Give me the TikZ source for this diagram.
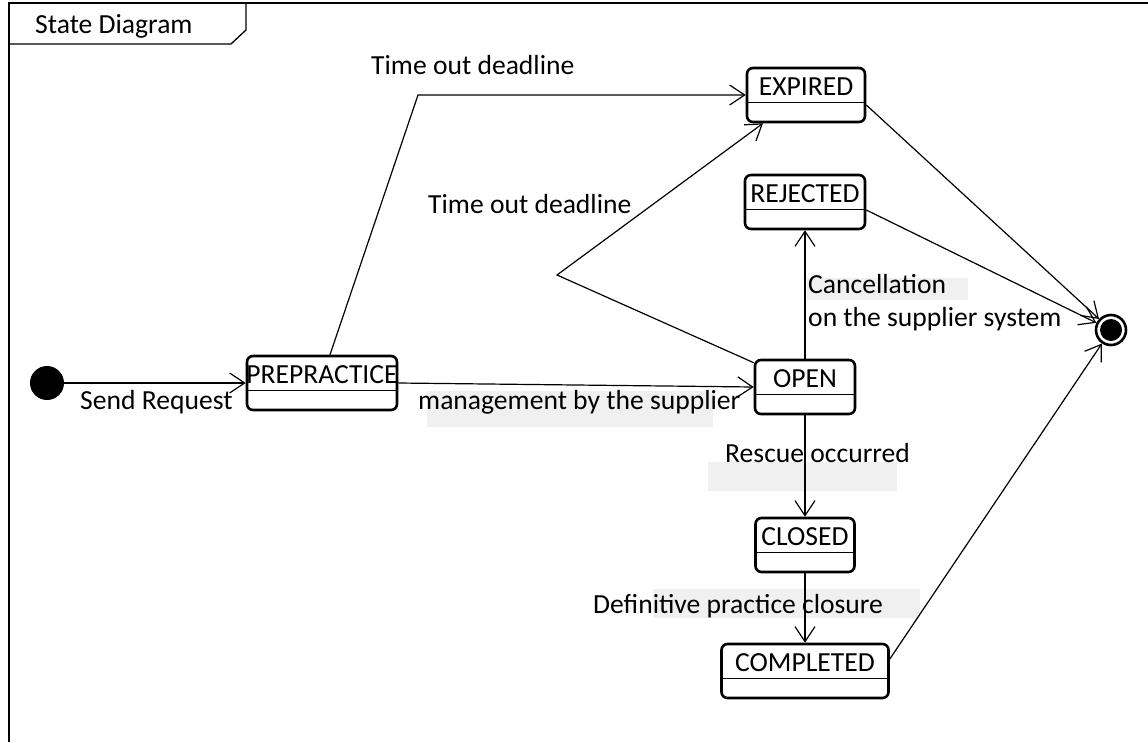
\documentclass[tikz,border=0pt]{standalone}
\usepackage{fontspec}
\setmainfont{Carlito}
\usetikzlibrary{arrows.meta}
\definecolor{hlgray}{HTML}{F0F0F0}
\begin{document}
\begin{tikzpicture}[x=1pt,y=-1pt,
  every node/.style={font=\fontsize{27.6pt}{32pt}\selectfont},
  state/.style={draw, line width=2.6pt, rounded corners=6pt, minimum height=54pt, inner sep=0pt},
  statename/.style={inner sep=0pt, anchor=base},
  divider/.style={line width=1.2pt},
  trans/.style={line width=1.2pt, -{Straight Barb[length=15pt,width=20pt,line width=1.2pt]}},
  lbl/.style={inner sep=0pt, anchor=base west},
  hl/.style={fill=hlgray, draw=none}]

\useasboundingbox (0,0) rectangle (1148,742);

% diagram frame and its name tab
\draw[line width=1.3pt] (9,742) -- (9,3) -- (1148,3);
\draw[line width=1.3pt] (9,44) -- (231,44) -- (246,30) -- (246,3);
\node[lbl] (title) at (35,33) {State Diagram};

% shaded label backgrounds
\fill[hl] (427,391) rectangle (713,427);
\fill[hl] (807,278) rectangle (968,300);
\fill[hl] (708,462) rectangle (897,491);
\fill[hl] (653,589) rectangle (920,618);

% states
\node[state, minimum width=150pt] (prep) at (322,383) {};
\node[state, minimum width=118pt] (exp) at (806,95) {};
\node[state, minimum width=120pt] (rej) at (805,202) {};
\node[state, minimum width=100pt] (open) at (805,387) {};
\node[state, minimum width=99pt] (closed) at (805,545) {};
\node[state, minimum width=167pt] (comp) at (805,671) {};

\foreach \s/\t in {prep/PREPRACTICE, exp/EXPIRED, rej/REJECTED, open/OPEN, closed/CLOSED, comp/COMPLETED}{
  \node[statename] (\s-name) at ([yshift=-29pt]\s.north) {\t};
  \draw[divider] ([yshift=-36pt]\s.north west) -- ([yshift=-36pt]\s.north east);
}

% initial and final pseudostates
\node[circle, fill, minimum size=34pt, inner sep=0pt] (init) at (47,383) {};
\node[circle, draw, line width=2.6pt, minimum size=30pt, inner sep=0pt] (fin) at (1111,330) {};
\fill (fin.center) circle (11pt);

% bend points
\coordinate (c1) at (418,95);
\coordinate (c2) at (557,275);

% transitions
\draw[trans] (init) -- (prep.west);
\draw[trans] ([xshift=8pt]prep.north) -- (c1) -- (exp.west);
\draw[trans] ([yshift=-4pt]open.north west) -- (c2) -- ([xshift=-43pt]exp.south);
\draw[trans] (prep.east) -- (open.west);
\draw[trans] (open.north) -- (rej.south);
\draw[trans] (open.south) -- (closed.north);
\draw[trans] (closed.south) -- (comp.north);
\draw[trans] ([yshift=-10pt]exp.east) -- (fin);
\draw[trans] ([yshift=-8pt]rej.east) -- (fin);
\draw[trans] ([yshift=12pt]comp.east) -- (fin);

% transition labels
\node[lbl] (l1) at (371,74) {Time out deadline};
\node[lbl] (l2) at (428,213) {Time out deadline};
\node[lbl] (l3) at (80,409) {Send Request};
\node[lbl] (l4) at (418,409) {management by the supplier};
\node[lbl] (l5) at (808,293) {Cancellation};
\node[lbl] (l6) at (808,326) {on the supplier system};
\node[lbl] (l7) at (725,462) {Rescue occurred};
\node[lbl] (l8) at (593,613) {Definitive practice closure};
\end{tikzpicture}
\end{document}
